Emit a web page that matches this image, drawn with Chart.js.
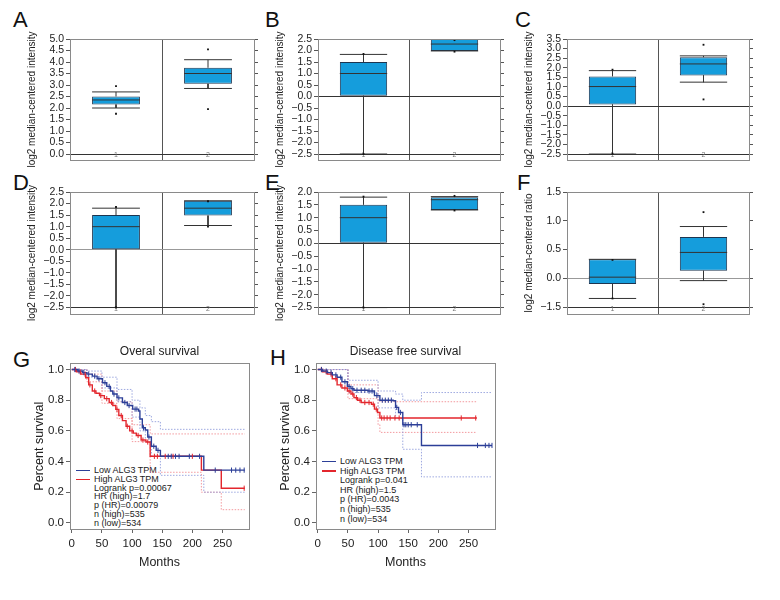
<!DOCTYPE html>
<html>
<head>
<meta charset="utf-8">
<script src="https://cdn.jsdelivr.net/npm/chart.js@4.4.1/dist/chart.umd.min.js"></script>
<style>
  body { margin: 0; background: #fff; width: 780px; height: 600px; position: relative; overflow: hidden;
         font-family: 'Liberation Sans', Roboto, sans-serif; }
  canvas { position: absolute; }
  .lbl { position: absolute; font-size: 22px; line-height: 1; color: #111; }
  .leg { position: absolute; font-size: 9px; color: #222; white-space: nowrap; }
  .leg i { display: inline-block; width: 14px; height: 1.6px; margin-right: 4px; vertical-align: middle; }
  .leg .s { padding-left: 18px; }
</style>
</head>
<body>
<div class="lbl" style="left:13px;top:9px">A</div>
<div class="lbl" style="left:265px;top:9px">B</div>
<div class="lbl" style="left:515px;top:9px">C</div>
<div class="lbl" style="left:13px;top:172px">D</div>
<div class="lbl" style="left:265px;top:172px">E</div>
<div class="lbl" style="left:517px;top:172px">F</div>
<div class="lbl" style="left:13px;top:349px">G</div>
<div class="lbl" style="left:270px;top:347px">H</div>

<div class="leg" style="left:76px;top:466px;line-height:8.8px">
  <div><i style="background:#2c3f98"></i>Low ALG3 TPM</div>
  <div><i style="background:#e3262d"></i>High ALG3 TPM</div>
  <div class="s">Logrank p=0.00067</div>
  <div class="s">HR (high)=1.7</div>
  <div class="s">p (HR)=0.00079</div>
  <div class="s">n (high)=535</div>
  <div class="s">n (low)=534</div>
</div>
<div class="leg" style="left:322px;top:457px;line-height:9.6px">
  <div><i style="background:#2c3f98"></i>Low ALG3 TPM</div>
  <div><i style="background:#e3262d"></i>High ALG3 TPM</div>
  <div class="s">Logrank p=0.041</div>
  <div class="s">HR (high)=1.5</div>
  <div class="s">p (HR)=0.0043</div>
  <div class="s">n (high)=535</div>
  <div class="s">n (low)=534</div>
</div>

<script>
// ---- box plot data: [whisker low, q1, median, q3, whisker high] per group ----
const groups = ['1', '2'];

const boxA = [[2.0, 2.15, 2.35, 2.5, 2.7], [2.85, 3.05, 3.5, 3.75, 4.1]];
const dotsA = [[1.75, 2.95], [1.95, 4.55]];
const ticksA = [0, 0.5, 1, 1.5, 2, 2.5, 3, 3.5, 4, 4.5, 5];

const boxB = [[-2.5, 0.03, 1.0, 1.5, 1.83], [1.98, 1.98, 2.28, 2.7, 3.0]];
const dotsB = [[-2.5, 1.85], [1.95, 2.45]];
const ticksB = [-2.5, -2, -1.5, -1, -0.5, 0, 0.5, 1, 1.5, 2, 2.5];

const boxC = [[-2.5, 0.08, 1.02, 1.55, 1.85], [1.25, 1.6, 2.2, 2.55, 2.62]];
const dotsC = [[-2.48, 1.9], [0.35, 3.2]];
const ticksC = [-2.5, -2, -1.5, -1, -0.5, 0, 0.5, 1, 1.5, 2, 2.5, 3, 3.5];

const boxD = [[-2.5, 0.02, 1.0, 1.5, 1.8], [1.05, 1.48, 1.8, 2.12, 2.12]];
const dotsD = [[-2.5, 1.85], [1.0, 2.1]];
const ticksD = [-2.5, -2, -1.5, -1, -0.5, 0, 0.5, 1, 1.5, 2, 2.5];

const boxE = [[-2.5, 0.02, 1.0, 1.5, 1.8], [1.3, 1.3, 1.7, 1.8, 1.82]];
const dotsE = [[-2.5, 1.82], [1.28, 1.85]];
const ticksE = [-2.5, -2, -1.5, -1, -0.5, 0, 0.5, 1, 1.5, 2];

const boxF = [[-0.35, -0.1, 0.02, 0.33, 0.33], [-0.04, 0.13, 0.45, 0.72, 0.9]];
const dotsF = [[-0.35, 0.32], [-0.45, 1.15]];
const ticksF = [-0.5, 0, 0.5, 1, 1.5];
const labelsF = ['\u22121.5', '0.0', '0.5', '1.0', '1.5'];

// ---- survival data (months, survival after each step) ----
const monthTicks = [0, 50, 100, 150, 200, 250];
const survTicks = [0, 0.2, 0.4, 0.6, 0.8, 1.0];

const osLowT = [0, 10, 18, 25, 34, 42, 51, 58, 64, 68, 75, 84, 92, 101, 111, 113, 117, 122, 126, 132, 140, 147, 219, 287];
const osLowS = [1.0, 0.99, 0.98, 0.97, 0.957, 0.94, 0.914, 0.89, 0.86, 0.84, 0.815, 0.785, 0.765, 0.742, 0.73, 0.677, 0.62, 0.606, 0.56, 0.50, 0.473, 0.434, 0.344, 0.344];
const osHighT = [0, 8, 15, 23, 28, 34, 40, 46, 54, 62, 68, 73, 78, 84, 90, 96, 102, 107, 115, 123, 130, 215, 248, 287];
const osHighS = [1.0, 0.985, 0.97, 0.946, 0.90, 0.86, 0.845, 0.83, 0.81, 0.785, 0.765, 0.74, 0.70, 0.667, 0.63, 0.60, 0.585, 0.57, 0.54, 0.527, 0.434, 0.344, 0.226, 0.226];
const osLowCens = [5, 12, 20, 28, 38, 45, 55, 62, 70, 78, 88, 95, 105, 108, 119, 128, 136, 143, 160, 165, 172, 178, 195, 212, 238, 265, 272, 279, 286];
const osHighCens = [6, 14, 22, 30, 38, 48, 58, 66, 75, 82, 92, 100, 110, 118, 126, 137, 142, 155, 168, 200, 286];
const osLowUpT = [0, 25, 50, 75, 100, 113, 122, 132, 147, 287];
const osLowUpS = [1.0, 0.99, 0.95, 0.87, 0.80, 0.75, 0.70, 0.66, 0.61, 0.61];
const osLowLoT = [0, 25, 50, 75, 100, 113, 122, 132, 147, 219, 287];
const osLowLoS = [1.0, 0.95, 0.88, 0.79, 0.69, 0.60, 0.53, 0.44, 0.31, 0.20, 0.20];
const osHighUpT = [0, 25, 50, 75, 100, 130, 287];
const osHighUpS = [1.0, 0.97, 0.86, 0.79, 0.64, 0.58, 0.58];
const osHighLoT = [0, 25, 50, 75, 100, 130, 215, 248, 287];
const osHighLoS = [1.0, 0.92, 0.78, 0.68, 0.53, 0.33, 0.20, 0.086, 0.086];

const dfsLowT = [0, 8, 16, 24, 32, 40, 49, 55, 60, 83, 94, 103, 125, 129, 134, 141, 172, 289];
const dfsLowS = [1.0, 0.99, 0.98, 0.965, 0.95, 0.92, 0.89, 0.875, 0.865, 0.86, 0.83, 0.80, 0.796, 0.753, 0.72, 0.64, 0.505, 0.505];
const dfsHighT = [0, 8, 16, 24, 32, 40, 49, 55, 60, 66, 72, 89, 94, 99, 103, 264];
const dfsHighS = [1.0, 0.985, 0.97, 0.94, 0.90, 0.88, 0.86, 0.84, 0.817, 0.80, 0.785, 0.774, 0.742, 0.72, 0.684, 0.684];
const dfsLowCens = [6, 14, 22, 30, 38, 45, 52, 58, 65, 72, 78, 85, 90, 98, 107, 112, 117, 122, 131, 137, 143, 146, 150, 155, 165, 265, 278, 284, 289];
const dfsHighCens = [6, 14, 22, 30, 38, 45, 52, 58, 64, 70, 78, 85, 92, 97, 106, 110, 115, 120, 128, 135, 238, 262];
const dfsLowUpT = [0, 50, 100, 129, 141, 172, 289];
const dfsLowUpS = [1.0, 0.93, 0.86, 0.84, 0.80, 0.85, 0.85];
const dfsLowLoT = [0, 50, 100, 129, 141, 172, 289];
const dfsLowLoS = [1.0, 0.85, 0.75, 0.68, 0.48, 0.30, 0.30];
const dfsHighUpT = [0, 50, 100, 103, 264];
const dfsHighUpS = [1.0, 0.90, 0.80, 0.79, 0.79];
const dfsHighLoT = [0, 50, 100, 103, 264];
const dfsHighLoS = [1.0, 0.81, 0.64, 0.59, 0.59];

// ---- styles ----
Chart.defaults.font.family = "'Liberation Sans', Roboto, sans-serif";
Chart.defaults.color = '#222';
Chart.defaults.animation = false;
Chart.defaults.plugins.legend.display = false;
Chart.defaults.plugins.tooltip.enabled = false;

const BOX_FILL = '#159ddc';
const BOX_EDGE = '#1d3550';
const BOX_W = 0.52;
const BLUE = '#2c3f98', RED = '#e3262d';
const BLUE_CI = '#8593d8', RED_CI = '#f08087';

// gray frame round the plot area
const frame = {
  id: 'frame',
  afterDraw(chart) {
    const a = chart.chartArea, c = chart.ctx;
    c.save();
    c.strokeStyle = '#8a8a8a';
    c.lineWidth = 1;
    c.strokeRect(Math.round(a.left) + 0.5, Math.round(a.top) + 0.5,
                 Math.round(a.right - a.left), Math.round(a.bottom - a.top));
    c.restore();
  }
};

function makeCanvas(left, top, w, h) {
  const cv = document.createElement('canvas');
  cv.width = w; cv.height = h;
  cv.style.left = left + 'px'; cv.style.top = top + 'px';
  cv.style.width = w + 'px'; cv.style.height = h + 'px';
  document.body.appendChild(cv);
  return cv.getContext('2d');
}

function fmt(v) {
  return v < 0 ? '\u2212' + (-v).toFixed(1) : v.toFixed(1);
}

// area = [left, top, right, bottom] of the plot frame in page pixels
function boxPanel(area, stats, dots, yTicks, yLabels, yMin, yMax, darkLines, grayLines, yTitle) {
  const ctx = makeCanvas(area[0] - 70, area[1] - 39, area[2] - area[0] + 78, area[3] - area[1] + 57);
  const h = BOX_W / 2;
  const seg = [];
  stats.forEach((s, i) => {
    const x = i + 1;
    seg.push({x: x - h, y: s[2]}, {x: x + h, y: s[2]}, {x: x, y: null},
             {x: x, y: s[3]}, {x: x, y: s[4]}, {x: x, y: null},
             {x: x - h, y: s[4]}, {x: x + h, y: s[4]}, {x: x, y: null},
             {x: x, y: s[1]}, {x: x, y: s[0]}, {x: x, y: null},
             {x: x - h, y: s[0]}, {x: x + h, y: s[0]}, {x: x, y: null});
  });
  const pts = [];
  dots.forEach((d, i) => d.forEach(v => pts.push({x: i + 1, y: v})));
  const setTicks = s => { s.ticks = yTicks.map(v => ({value: v})); };

  new Chart(ctx, {
    type: 'bar',
    data: {
      datasets: [
        {type: 'scatter', data: pts, pointStyle: 'rect',
         pointRadius: 1.3, backgroundColor: '#111', borderWidth: 0},
        {type: 'line', data: seg, borderColor: '#333',
         borderWidth: 1, pointRadius: 0, spanGaps: false},
        {type: 'bar', data: stats.map((s, i) => ({x: i + 1, y: [s[1], s[3]]})),
         backgroundColor: BOX_FILL, borderColor: BOX_EDGE, borderWidth: 1, borderSkipped: false,
         barPercentage: BOX_W, categoryPercentage: 1}
      ]
    },
    options: {
      responsive: false,
      layout: {padding: {left: 26, top: 39, right: 2, bottom: 18}},
      scales: {
        // group labels sit inside the bottom strip of the frame (mirror keeps them unclipped)
        x: {type: 'linear', min: 0.5, max: 2.5, offset: false,
            afterBuildTicks: s => { s.ticks = groups.map((g, i) => ({value: i + 1})); },
            grid: {display: false, offset: false}, border: {display: false},
            ticks: {callback: (v, i) => groups[i], mirror: true, padding: 1, font: {size: 7}, color: '#777', autoSkip: false},
            afterFit: s => { s.height = 0; }},
        xd: {type: 'linear', min: 0.5, max: 2.5, offset: false, position: 'bottom',
             afterBuildTicks: s => { s.ticks = [{value: 1.5}]; },
             grid: {color: '#555', drawTicks: false, offset: false}, border: {display: false},
             ticks: {display: false}, afterFit: s => { s.height = 0; }},
        y: {min: yMin, max: yMax, afterBuildTicks: setTicks,
            ticks: {callback: (v, i) => yLabels[i], font: {size: 10.5}, padding: 2, color: '#222', autoSkip: false},
            grid: {color: c => darkLines.includes(c.tick.value) ? '#333'
                              : (grayLines.includes(c.tick.value) ? '#999' : 'transparent'),
                   tickColor: '#555', tickLength: 4},
            border: {display: false},
            title: {display: true, text: yTitle, font: {size: 10}, padding: {top: 0, bottom: 0}},
            afterFit: s => { s.width = 44; }},
        yr: {position: 'right', min: yMin, max: yMax, afterBuildTicks: setTicks,
             ticks: {callback: () => '', autoSkip: false},
             grid: {drawOnChartArea: false, tickLength: 4, color: '#555'},
             border: {display: false}, afterFit: s => { s.width = 6; }}
      }
    },
    plugins: [frame]
  });
}

const INT = 'log2 median-centered intensity';
boxPanel([70, 39, 254, 160], boxA, dotsA, ticksA, ticksA.map(fmt), -0.26, 5.0, [0], [], INT);
boxPanel([318, 39, 500, 160], boxB, dotsB, ticksB, ticksB.map(fmt), -2.76, 2.5, [0, -2.5], [], INT);
boxPanel([567, 39, 749, 160], boxC, dotsC, ticksC, ticksC.map(fmt), -2.81, 3.5, [0, -2.5], [], INT);
boxPanel([70, 192, 254, 314], boxD, dotsD, ticksD, ticksD.map(fmt), -2.78, 2.5, [-2.5], [0], INT);
boxPanel([318, 192, 500, 314], boxE, dotsE, ticksE, ticksE.map(fmt), -2.75, 2.0, [0, -2.5], [], INT);
boxPanel([567, 192, 749, 314], boxF, dotsF, ticksF, labelsF, -0.62, 1.5, [-0.5], [0], 'log2 median-centered ratio');

// ---- Kaplan-Meier panels ----
function steps(t, s) { return t.map((v, i) => ({x: v, y: s[i]})); }
function survAt(t, s, m) {
  let v = s[0];
  for (let i = 0; i < t.length; i++) { if (t[i] <= m) v = s[i]; }
  return v;
}
function cens(times, t, s) { return times.map(m => ({x: m, y: survAt(t, s, m)})); }

function kmLine(data, color, w) {
  return {type: 'line', data: data, borderColor: color, borderWidth: w, pointRadius: 0, stepped: 'before'};
}
function ciLine(data, color) {
  return {type: 'line', data: data, borderColor: color, borderWidth: 0.8, borderDash: [1.5, 1.5],
          pointRadius: 0, stepped: 'before'};
}
function censSet(data, color) {
  return {type: 'scatter', data: data, pointStyle: 'line', rotation: 90, pointRadius: 2.6,
          borderColor: color, borderWidth: 1};
}

function kmPanel(area, title, low, high, lowCens, highCens, lowUp, lowLo, highUp, highLo) {
  const ctx = makeCanvas(area[0] - 70, 340, area[2] - area[0] + 81, 240);
  new Chart(ctx, {
    type: 'line',
    data: {
      datasets: [
        censSet(cens(lowCens, low[0], low[1]), BLUE),
        censSet(cens(highCens, high[0], high[1]), RED),
        kmLine(steps(low[0], low[1]), BLUE, 1.4),
        kmLine(steps(high[0], high[1]), RED, 1.4),
        ciLine(steps(lowUp[0], lowUp[1]), BLUE_CI),
        ciLine(steps(lowLo[0], lowLo[1]), BLUE_CI),
        ciLine(steps(highUp[0], highUp[1]), RED_CI),
        ciLine(steps(highLo[0], highLo[1]), RED_CI)
      ]
    },
    options: {
      responsive: false,
      layout: {padding: {left: 28, top: 0, right: 11, bottom: 6}},
      plugins: {
        title: {display: true, text: title, fullSize: false, font: {size: 12, weight: 'normal'},
                color: '#222', padding: {top: 4, bottom: 5}}
      },
      scales: {
        x: {type: 'linear', min: -3, max: 294,
            afterBuildTicks: s => { s.ticks = monthTicks.map(v => ({value: v})); },
            grid: {drawOnChartArea: false, tickLength: 4, color: '#666'}, border: {display: false},
            ticks: {font: {size: 11.5}, padding: 4, maxRotation: 0, autoSkip: false},
            title: {display: true, text: 'Months', font: {size: 12.5}, padding: {top: 0, bottom: 4}},
            afterFit: s => { s.height = 45; }},
        y: {min: -0.04, max: 1.04,
            afterBuildTicks: s => { s.ticks = survTicks.map(v => ({value: v})); },
            ticks: {callback: v => v.toFixed(1), font: {size: 11.5}, padding: 2, autoSkip: false},
            grid: {drawOnChartArea: false, tickLength: 4, color: '#666'}, border: {display: false},
            title: {display: true, text: 'Percent survival', font: {size: 12.5}, padding: {top: 4, bottom: 0}},
            afterFit: s => { s.width = 42; }}
      }
    },
    plugins: [frame]
  });
}

kmPanel([70, 363, 249, 529], 'Overal survival',
        [osLowT, osLowS], [osHighT, osHighS], osLowCens, osHighCens,
        [osLowUpT, osLowUpS], [osLowLoT, osLowLoS], [osHighUpT, osHighUpS], [osHighLoT, osHighLoS]);
kmPanel([316, 363, 495, 529], 'Disease free survival',
        [dfsLowT, dfsLowS], [dfsHighT, dfsHighS], dfsLowCens, dfsHighCens,
        [dfsLowUpT, dfsLowUpS], [dfsLowLoT, dfsLowLoS], [dfsHighUpT, dfsHighUpS], [dfsHighLoT, dfsHighLoS]);
</script>
</body>
</html>
